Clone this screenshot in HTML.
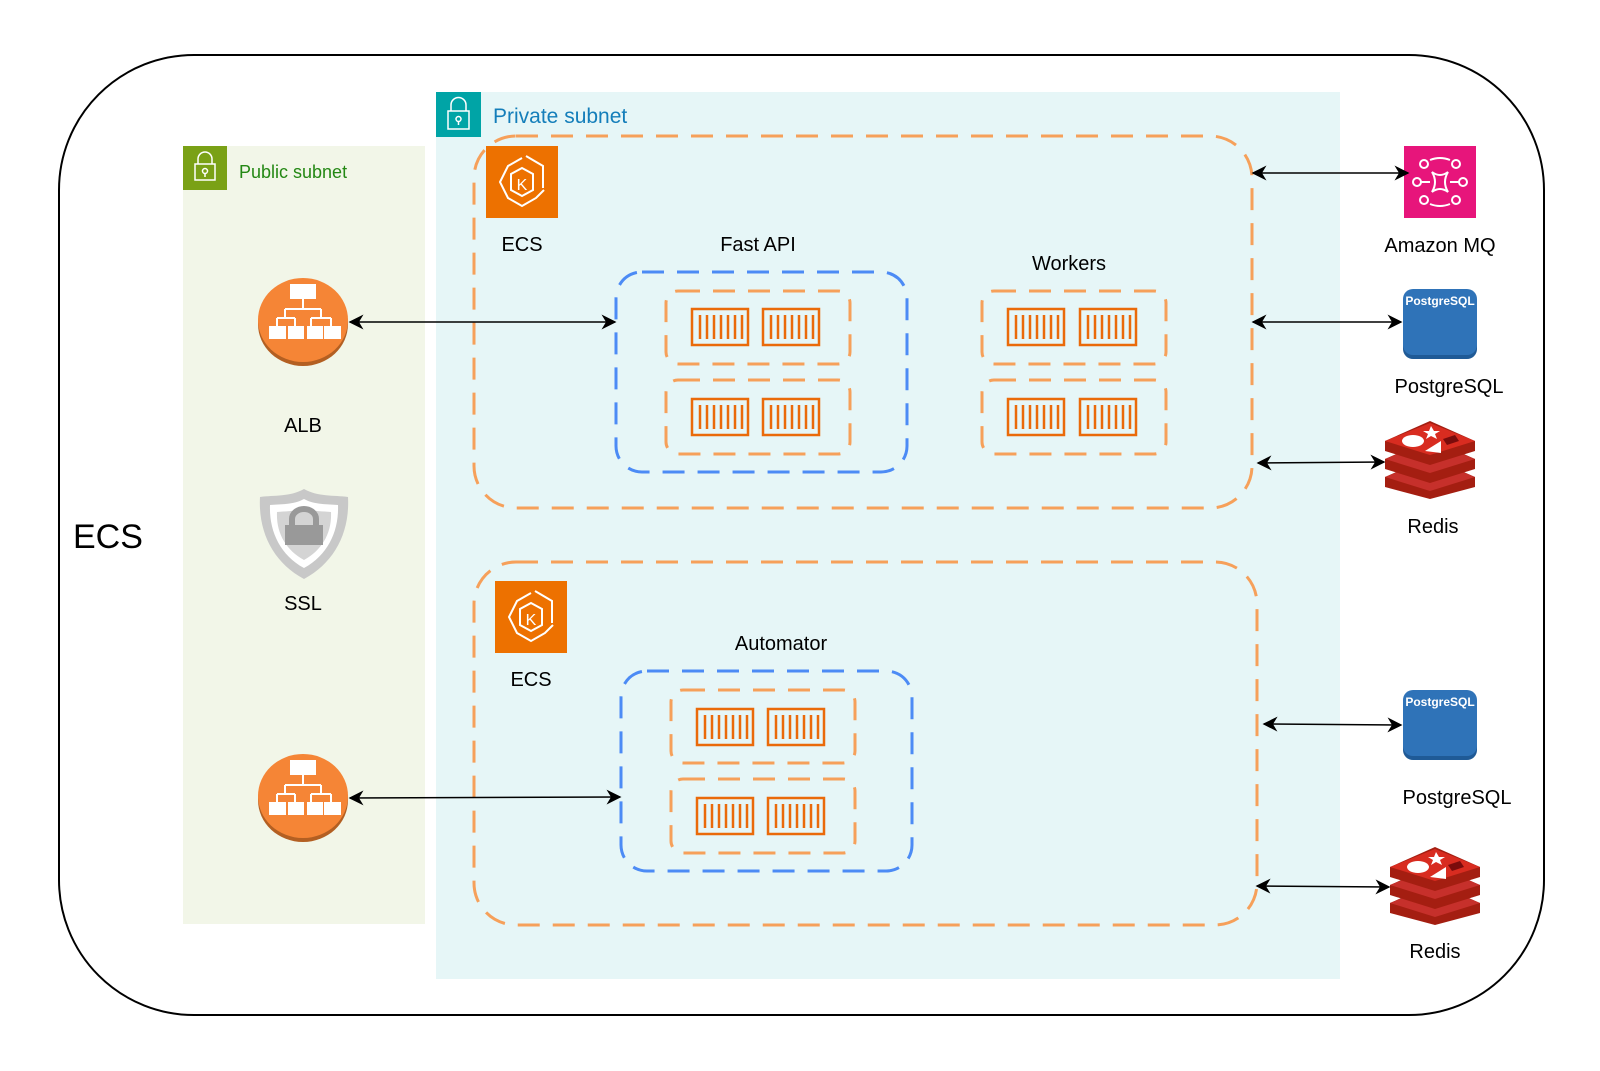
<!DOCTYPE html>
<html><head><meta charset="utf-8"><style>
html,body{margin:0;padding:0;background:#fff}
svg{display:block}
text{font-family:"Liberation Sans",Arial,sans-serif}
</style></head><body>
<svg width="1600" height="1071" viewBox="0 0 1600 1071" xmlns="http://www.w3.org/2000/svg">
<defs>
<marker id="ah" viewBox="0 0 10 10" refX="9" refY="5" markerWidth="15" markerHeight="15" orient="auto-start-reverse" markerUnits="userSpaceOnUse">
<path d="M0,0 L10,5 L0,10 L3,5 z" fill="#000"/></marker>
<g id="cont">
<rect x="1" y="1" width="56" height="36" fill="none" stroke="#EA6A0A" stroke-width="2.5"/>
<g stroke="#EA6A0A" stroke-width="2.5">
<line x1="9" y1="7" x2="9" y2="31"/><line x1="16" y1="7" x2="16" y2="31"/><line x1="23" y1="7" x2="23" y2="31"/><line x1="30" y1="7" x2="30" y2="31"/><line x1="37" y1="7" x2="37" y2="31"/><line x1="44" y1="7" x2="44" y2="31"/><line x1="51" y1="7" x2="51" y2="31"/>
</g></g>
<g id="ecs">
<rect width="72" height="72" fill="#ED7100"/>
<g fill="none" stroke="#fff" stroke-width="2">
<path d="M36 12 L22 20 L14 36 L22 52 L36 60 L50 52 L58 44"/>
<path d="M40 10 L57 20 L57 42"/>
<path d="M36 22 L25 28 L25 44 L36 50 L47 44 L47 28 Z"/>
</g>
<text x="36" y="44" font-size="16" fill="#fff" text-anchor="middle">K</text>
</g>
<g id="alb">
<ellipse cx="0" cy="4" rx="45" ry="42" fill="#B35F22"/>
<ellipse cx="0" cy="0" rx="45" ry="42" fill="#F58536"/>
<g fill="#fff"><rect x="-13" y="-36" width="26" height="15"/>
<rect x="-34" y="6" width="17" height="13"/><rect x="-15" y="6" width="16" height="13"/><rect x="4" y="6" width="16" height="13"/><rect x="21" y="6" width="17" height="13"/></g>
<g fill="none" stroke="#fff" stroke-width="2"><path d="M0 -21 V-11 M-18 -11 H18 M-18 -11 V-2 M18 -11 V-2 M-26 -2 H-8 M8 -2 H28 M-26 -2 V6 M-8 -2 V6 M8 -2 V6 M28 -2 V6"/></g>
</g>
<g id="pg">
<rect x="0" y="4" width="74" height="66" rx="10" fill="#1F5A96"/>
<rect x="0" y="0" width="74" height="66" rx="10" fill="#2F73B8"/>
<text x="37" y="16" font-size="12" font-weight="bold" fill="#fff" text-anchor="middle" font-family="Liberation Sans Narrow,Liberation Sans,sans-serif">PostgreSQL</text>
</g>
<g id="redis">
<path d="M0 56 L45 36 L90 56 L90 66 L45 78 L0 66 Z" fill="#A41E11"/>
<path d="M0 56 L45 38 L90 56 L45 70 Z" fill="#C6302B"/>
<path d="M0 38 L45 18 L90 38 L90 48 L45 62 L0 48 Z" fill="#A41E11"/>
<path d="M0 38 L45 20 L90 38 L45 52 Z" fill="#C6302B"/>
<path d="M0 20 L45 0 L90 20 L90 30 L45 44 L0 30 Z" fill="#A41E11"/>
<path d="M0 20 L45 2 L90 20 L45 34 Z" fill="#D82C20"/>
<ellipse cx="28" cy="20" rx="11" ry="6" fill="#fff"/>
<path d="M46 5 l3 5 l6 0 l-5 3 l2 5 l-6 -3 l-5 3 l2 -5 l-5 -3 l6 0z" fill="#fff"/>
<path d="M58 18 L70 14 L74 20 L62 24Z" fill="#7A0C0C"/>
<path d="M40 30 L56 20 L56 32 Z" fill="#fff"/>
</g>
</defs>

<rect x="59" y="55" width="1485" height="960" rx="135" fill="#fff" stroke="#000" stroke-width="2"/>
<text x="73" y="548" font-size="34" fill="#000">ECS</text>

<rect x="183" y="146" width="242" height="778" fill="#F2F6E8"/>
<rect x="183" y="146" width="44" height="44" fill="#7AA116"/>
<g fill="none" stroke="#fff" stroke-width="1.5"><rect x="195" y="164" width="20" height="16"/><path d="M198 164 v-5 a7 7 0 0 1 14 0 v5"/><circle cx="205" cy="171" r="2.5"/><line x1="205" y1="173" x2="205" y2="177"/></g>
<text x="239" y="178" font-size="18" fill="#248814">Public subnet</text>

<rect x="436" y="92" width="904" height="887" fill="#E6F6F7"/>
<rect x="436" y="92" width="45" height="45" fill="#00A4A6"/>
<g fill="none" stroke="#fff" stroke-width="1.5"><rect x="448" y="111" width="21" height="18"/><path d="M451 111 v-6 a7.5 7.5 0 0 1 15 0 v6"/><circle cx="458.5" cy="119" r="2.5"/><line x1="458.5" y1="121" x2="458.5" y2="125"/></g>
<text x="493" y="123" font-size="21" fill="#147EBA">Private subnet</text>

<use href="#alb" x="303" y="320"/>
<text x="303" y="432" font-size="20" text-anchor="middle">ALB</text>
<g transform="translate(304,533)">
<path d="M0 -44 C14 -36 30 -38 44 -36 C46 0 30 30 0 46 C-30 30 -46 0 -44 -36 C-30 -38 -14 -36 0 -44Z" fill="#C8C8C8"/>
<path d="M0 -34 C11 -28 24 -29 34 -28 C35 -2 24 22 0 35 C-24 22 -35 -2 -34 -28 C-24 -29 -11 -28 0 -34Z" fill="#fff"/>
<path d="M0 -26 C9 -21 18 -22 27 -21 C28 0 18 17 0 27 C-18 17 -28 0 -27 -21 C-18 -22 -9 -21 0 -26Z" fill="#D4D4D4"/>
<rect x="-19" y="-8" width="38" height="20" fill="#999"/>
<path d="M-12 -8 v-6 a12 10 0 0 1 24 0 v6" fill="none" stroke="#999" stroke-width="6"/>
</g>
<text x="303" y="610" font-size="20" text-anchor="middle">SSL</text>
<use href="#alb" x="303" y="796"/>

<rect x="474" y="136" width="778" height="372" rx="42" fill="none" stroke="#F6A05A" stroke-width="3" stroke-dasharray="22 13"/>
<use href="#ecs" x="486" y="146"/>
<text x="522" y="251" font-size="20" text-anchor="middle">ECS</text>
<text x="758" y="251" font-size="20" text-anchor="middle">Fast API</text>
<rect x="616" y="272" width="291" height="200" rx="26" fill="none" stroke="#4C8BF5" stroke-width="3" stroke-dasharray="22 13"/>
<rect x="666" y="291" width="184" height="73" rx="12" fill="none" stroke="#F6A05A" stroke-width="3" stroke-dasharray="22 13"/>
<rect x="666" y="380" width="184" height="74" rx="12" fill="none" stroke="#F6A05A" stroke-width="3" stroke-dasharray="22 13"/>
<use href="#cont" x="691" y="308"/><use href="#cont" x="762" y="308"/>
<use href="#cont" x="691" y="398"/><use href="#cont" x="762" y="398"/>
<text x="1069" y="270" font-size="20" text-anchor="middle">Workers</text>
<rect x="982" y="291" width="184" height="73" rx="12" fill="none" stroke="#F6A05A" stroke-width="3" stroke-dasharray="22 13"/>
<rect x="982" y="380" width="184" height="74" rx="12" fill="none" stroke="#F6A05A" stroke-width="3" stroke-dasharray="22 13"/>
<use href="#cont" x="1007" y="308"/><use href="#cont" x="1079" y="308"/>
<use href="#cont" x="1007" y="398"/><use href="#cont" x="1079" y="398"/>

<rect x="474" y="562" width="783" height="363" rx="42" fill="none" stroke="#F6A05A" stroke-width="3" stroke-dasharray="22 13"/>
<use href="#ecs" x="495" y="581"/>
<text x="531" y="686" font-size="20" text-anchor="middle">ECS</text>
<text x="781" y="650" font-size="20" text-anchor="middle">Automator</text>
<rect x="621" y="671" width="291" height="200" rx="26" fill="none" stroke="#4C8BF5" stroke-width="3" stroke-dasharray="22 13"/>
<rect x="671" y="690" width="184" height="73" rx="12" fill="none" stroke="#F6A05A" stroke-width="3" stroke-dasharray="22 13"/>
<rect x="671" y="779" width="184" height="74" rx="12" fill="none" stroke="#F6A05A" stroke-width="3" stroke-dasharray="22 13"/>
<use href="#cont" x="696" y="708"/><use href="#cont" x="767" y="708"/>
<use href="#cont" x="696" y="797"/><use href="#cont" x="767" y="797"/>

<rect x="1404" y="146" width="72" height="72" fill="#E7157B"/>
<g fill="none" stroke="#fff" stroke-width="2">
<circle cx="1424" cy="164" r="4"/><circle cx="1456" cy="164" r="4"/><circle cx="1424" cy="200" r="4"/><circle cx="1456" cy="200" r="4"/>
<circle cx="1417" cy="182" r="4"/><circle cx="1463" cy="182" r="4"/>
<path d="M1432 172 Q1440 178 1448 172 Q1442 182 1448 192 Q1440 186 1432 192 Q1438 182 1432 172Z"/>
<path d="M1430 160 Q1440 156 1450 160 M1430 204 Q1440 208 1450 204 M1421 182 H1430 M1450 182 H1459"/>
</g>
<text x="1440" y="252" font-size="20" text-anchor="middle">Amazon MQ</text>
<use href="#pg" x="1403" y="289"/>
<text x="1449" y="393" font-size="20" text-anchor="middle">PostgreSQL</text>
<use href="#redis" x="1385" y="421"/>
<text x="1433" y="533" font-size="20" text-anchor="middle">Redis</text>
<use href="#pg" x="1403" y="690"/>
<text x="1457" y="804" font-size="20" text-anchor="middle">PostgreSQL</text>
<use href="#redis" x="1390" y="847"/>
<text x="1435" y="958" font-size="20" text-anchor="middle">Redis</text>

<g stroke="#000" stroke-width="1.5" fill="none" marker-start="url(#ah)" marker-end="url(#ah)">
<line x1="350" y1="322" x2="615" y2="322"/>
<line x1="350" y1="798" x2="620" y2="797"/>
<line x1="1253" y1="173" x2="1408" y2="173"/>
<line x1="1253" y1="322" x2="1401" y2="322"/>
<line x1="1258" y1="463" x2="1384" y2="462"/>
<line x1="1264" y1="724" x2="1401" y2="725"/>
<line x1="1257" y1="886" x2="1389" y2="887"/>
</g>
</svg>
</body></html>
